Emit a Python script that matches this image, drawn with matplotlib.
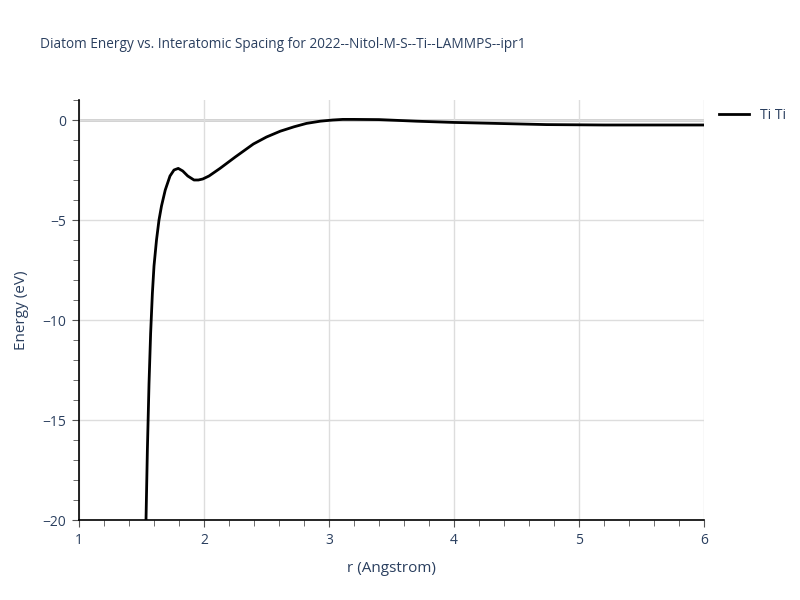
import numpy as np
import matplotlib
matplotlib.use("Agg")
import matplotlib.pyplot as plt
from matplotlib.ticker import MultipleLocator

plt.rcParams['font.family'] = ['Open Sans', 'DejaVu Sans']

# Ti-Ti diatom energy curve
r = [1.52, 1.536, 1.547, 1.56, 1.573, 1.587, 1.60, 1.62, 1.64, 1.66, 1.69,
     1.728, 1.76, 1.794, 1.83, 1.87, 1.92, 1.955, 1.99, 2.04, 2.128, 2.25,
     2.395, 2.5, 2.61, 2.72, 2.82, 2.93, 3.03, 3.11, 3.2, 3.4, 3.7, 3.99,
     4.4, 4.74, 5.2, 6.0]
energy = [-23.0, -20.0, -16.5, -13.2, -10.67, -8.67, -7.3, -6.0, -5.0, -4.3,
          -3.5, -2.8, -2.5, -2.42, -2.55, -2.8, -3.0, -3.0, -2.95, -2.8,
          -2.42, -1.85, -1.2, -0.85, -0.56, -0.34, -0.17, -0.06, 0.0, 0.03,
          0.03, 0.02, -0.06, -0.12, -0.18, -0.23, -0.25, -0.25]

title = "Diatom Energy vs. Interatomic Spacing for 2022--Nitol-M-S--Ti--LAMMPS--ipr1"
txt_col = "#2a3f5f"

fig = plt.figure(figsize=(8, 6), dpi=100)
ax = fig.add_axes([79/800, 80/600, 625/800, 420/600])

ax.plot(r, energy, color="black", linewidth=2, label="Ti Ti", zorder=3)

ax.set_xlim(1, 6)
ax.set_ylim(-20, 1)

ax.xaxis.set_major_locator(MultipleLocator(1))
ax.xaxis.set_minor_locator(MultipleLocator(0.2))
ax.yaxis.set_major_locator(MultipleLocator(5))
ax.yaxis.set_minor_locator(MultipleLocator(1))

ax.grid(True, which="major", color="#dddddd", linewidth=1)
ax.axhline(0, color="#cccccc", linewidth=2, zorder=1)

for s in ["top", "right"]:
    ax.spines[s].set_visible(False)
for s in ["left", "bottom"]:
    ax.spines[s].set_color("black")
    ax.spines[s].set_linewidth(1.2)

ax.tick_params(which="major", direction="out", length=5, color="#555555",
               labelsize=10, labelcolor=txt_col, pad=4)
ax.tick_params(which="minor", direction="out", length=4, color="#555555")
ax.set_yticks([0, -5, -10, -15, -20])
ax.set_yticklabels(["0", "\u22125", "\u221210", "\u221215", "\u221220"])

ax.set_xlabel("r (Angstrom)", fontsize=11, color=txt_col, labelpad=10)
ax.set_ylabel("Energy (eV)", fontsize=11, color=txt_col, labelpad=10)

fig.text(40/800, 1 - 45/600, title, fontsize=9.8, color=txt_col, va="center")

leg = ax.legend(loc="upper left", bbox_to_anchor=(1.01, 1.0), frameon=False,
                fontsize=10, handlelength=2.2, borderaxespad=0.2)
for t in leg.get_texts():
    t.set_color(txt_col)

fig.savefig("out.png", dpi=100)
